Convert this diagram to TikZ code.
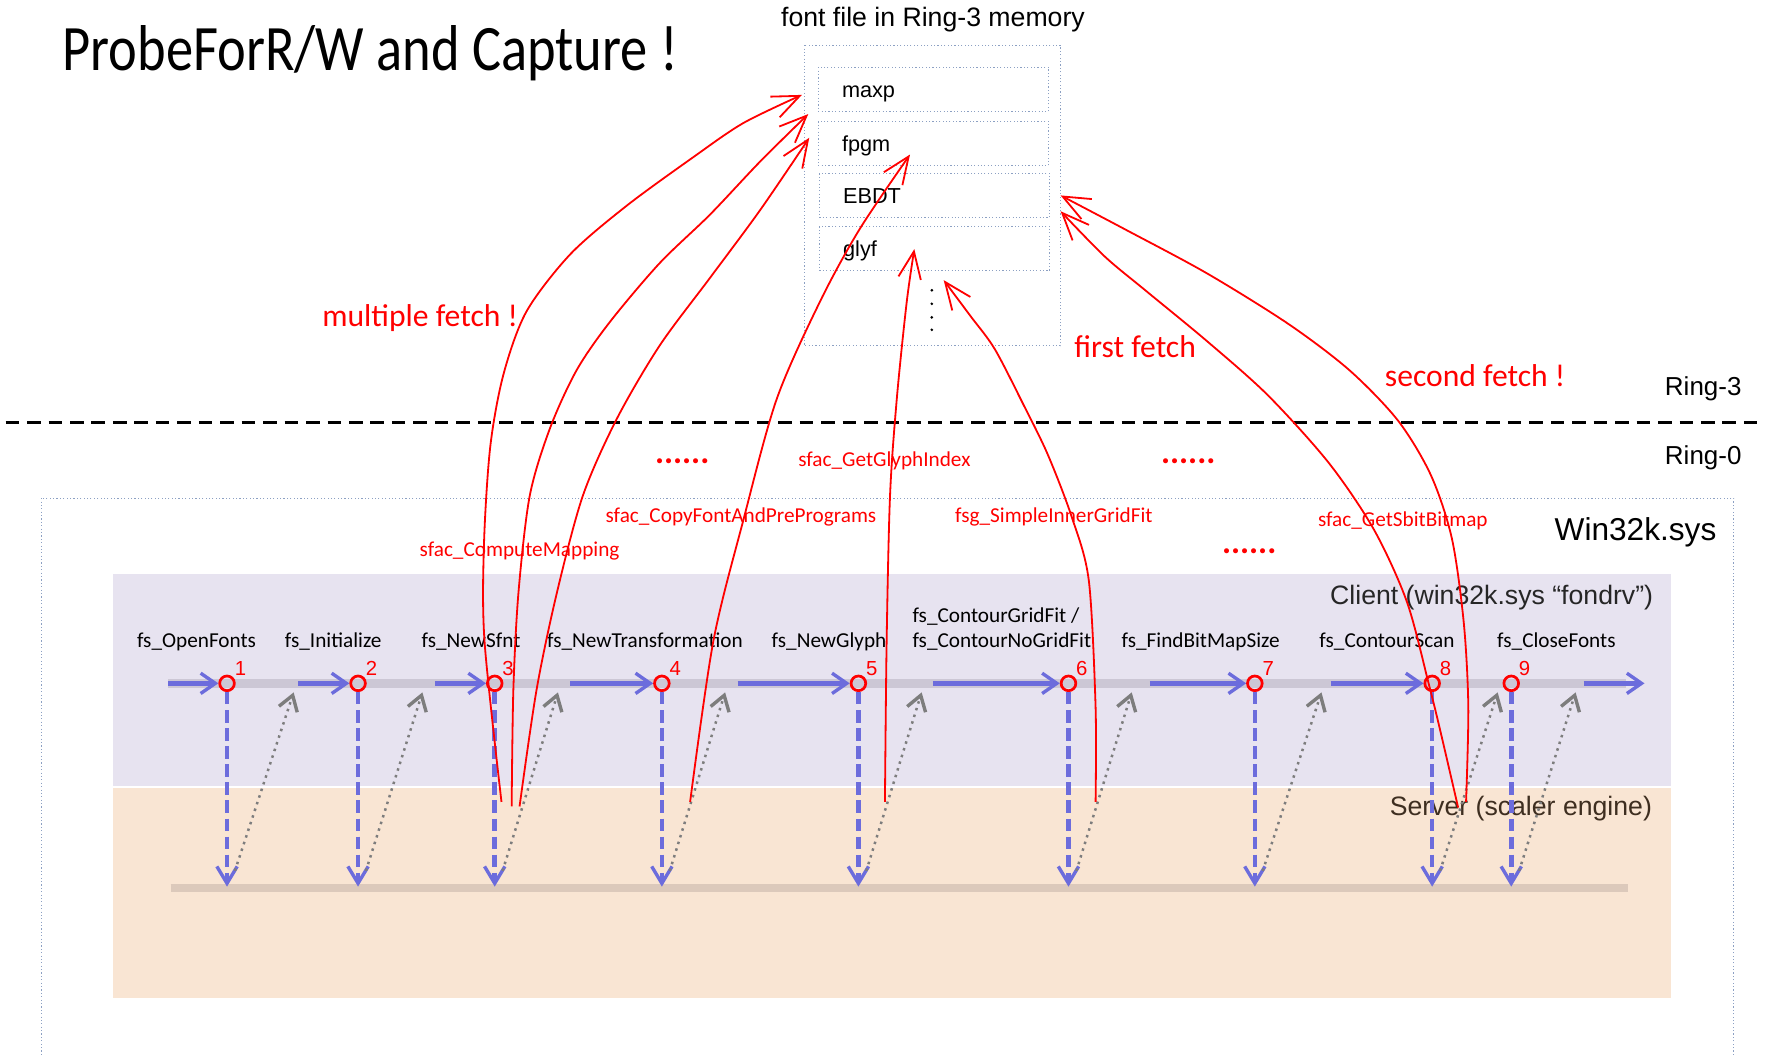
\documentclass[tikz,border=0pt]{standalone}
\usepackage{graphicx}
\usepackage{fontspec}
\setmainfont{Liberation Sans}
\newfontfamily\calfont{Carlito}
\usepackage{tikz}
\usetikzlibrary{arrows.meta}
\usepackage{xcolor}
\definecolor{fetchred}{RGB}{255,0,0}
\definecolor{callblue}{RGB}{108,108,220}
\definecolor{retgray}{RGB}{125,125,125}
\definecolor{clientbg}{RGB}{231,227,240}
\definecolor{serverbg}{RGB}{249,229,211}
\definecolor{bandgray}{RGB}{204,199,213}
\definecolor{bandbrown}{RGB}{220,201,187}
\definecolor{boxline}{RGB}{140,160,195}
\definecolor{serverink}{RGB}{62,46,32}

\tikzset{
  fsname/.style={font=\calfont\fontsize{9.4}{11}\selectfont},
  sfacname/.style={font=\calfont\fontsize{9.4}{11}\selectfont, text=fetchred},
  fetchnote/.style={font=\calfont\fontsize{14}{16}\selectfont, text=fetchred},
  moredots/.style={font=\calfont\bfseries\fontsize{15}{16}\selectfont, text=fetchred},
  memline/.style={draw=boxline, densely dotted, line width=0.5pt},
  rowbox/.style={memline, anchor=north west, minimum height=19.5pt, text width=81pt,
    text height=7.5pt, text depth=0.5pt,
    inner xsep=10.5pt, align=left, font=\fontsize{9.6}{11}\selectfont},
  callpt/.style={circle, draw=fetchred, line width=1.2pt, minimum size=6.5pt, inner sep=0pt},
  callnum/.style={font=\fontsize{9}{10}\selectfont, text=fetchred, inner sep=0.5pt, label distance=0pt},
  callflow/.style={draw=callblue, line width=2pt,
    -{Straight Barb[length=6.5pt,width=9pt,line width=1.5pt]}},
  calldown/.style={draw=callblue, line width=2pt, dash pattern=on 5.5pt off 2.5pt,
    -{Straight Barb[length=7.5pt,width=9pt,line width=1.5pt]}},
  retline/.style={draw=retgray, line width=1.1pt, dotted,
    -{Straight Barb[length=6.5pt,width=8.5pt,line width=1.5pt]}},
  fetch/.style={draw=fetchred, line width=0.8pt, -{Straight Barb[length=12pt,width=10pt]}}
}

\begin{document}
\begin{tikzpicture}[x=0.5pt, y=-0.5pt]
  \useasboundingbox (0,0) rectangle (1568,934);
  \clip (0,0) rectangle (1568,934);
  % title
  \node[anchor=base west, inner sep=0pt] (title) at (55,62)
    {\scalebox{0.84}[1]{\calfont\fontsize{28.7}{32}\selectfont ProbeForR/W and Capture !}};
  % font file in user memory
  \node (memtitle) at (826,17) {\fontsize{11.8}{14}\selectfont font file in Ring-3 memory};
  \draw[memline] (712,40) rectangle (939,306);
  \node[rowbox] (maxp) at (724,59) {maxp};
  \node[rowbox] (fpgm) at (724,107) {fpgm};
  \node[rowbox] (ebdt) at (725,153) {EBDT};
  \node[rowbox] (glyf) at (725,200) {glyf};
  \foreach \y in {257,269,281,292} \fill (825,\y) circle (0.65pt);
  % ring boundary
  \draw[line width=1.3pt, dash pattern=on 6pt off 3.5pt] (5,374) -- (1562,374);
  \node (ring3) at (1508,344) {\fontsize{11.5}{13}\selectfont Ring-3};
  \node (ring0) at (1508,405) {\fontsize{11.5}{13}\selectfont Ring-0};
  % win32k.sys
  \draw[memline] (37,441) rectangle (1535,960);
  \node (win32k) at (1448,471) {\fontsize{14}{16}\selectfont Win32k.sys};
  \fill[clientbg] (100,508) rectangle (1479,696);
  \fill[serverbg] (100,697.5) rectangle (1479,884);
  \node[anchor=east, inner sep=0pt, text=black!85] (client) at (1464,529)
    {\fontsize{11.8}{14}\selectfont Client (win32k.sys “fondrv”)};
  \node[anchor=east, inner sep=0pt, text=serverink] (server) at (1463,716)
    {\fontsize{11.8}{14}\selectfont Server (scaler engine)};
  \draw[bandgray, line width=4pt] (149,605) -- (1440,605);
  \draw[bandbrown, line width=3.5pt] (151,786) -- (1441,786);
  % call names
  \node[fsname] (n1) at (174,568) {fs\_OpenFonts};
  \node[fsname] (n2) at (295,568) {fs\_Initialize};
  \node[fsname] (n3) at (417,568) {fs\_NewSfnt};
  \node[fsname] (n4) at (571,568) {fs\_NewTransformation};
  \node[fsname] (n5) at (734,568) {fs\_NewGlyph};
  \node[fsname, align=left] (n6) at (887,557) {fs\_ContourGridFit /\\fs\_ContourNoGridFit};
  \node[fsname] (n7) at (1063,568) {fs\_FindBitMapSize};
  \node[fsname] (n8) at (1228,568) {fs\_ContourScan};
  \node[fsname] (n9) at (1378,568) {fs\_CloseFonts};
  % client -> server -> client
  \foreach \n/\x/\g in {1/201/260, 2/317/374, 3/438/494, 4/586/642, 5/760/816,
                        6/946/1002, 7/1111/1170, 8/1268/1326, 9/1338/1395} {
    \node[callpt, label={[callnum]45:\n}] (c\n) at (\x,605) {};
    \coordinate (d\n) at (\x,785);
    \coordinate (r\n) at (\x+7,771);
    \coordinate (g\n) at (\g,613);
    \draw[calldown] (c\n) -- (d\n);
    \draw[retline] (r\n) -- (g\n);
  }
  \foreach \n/\s in {1/149, 2/264, 3/385, 4/505, 5/653, 6/826, 7/1018, 8/1178} {
    \coordinate (s\n) at (\s,605);
    \draw[callflow] (s\n) -- (c\n);
  }
  \coordinate (sEnd) at (1402,605);
  \coordinate (eEnd) at (1456,605);
  \draw[callflow] (sEnd) -- (eEnd);
  % red labels
  \node[sfacname] (cmap) at (460,488) {sfac\_ComputeMapping};
  \node[sfacname] (cpfont) at (656,458) {sfac\_CopyFontAndPrePrograms};
  \node[sfacname] (gidx) at (783,408) {sfac\_GetGlyphIndex};
  \node[sfacname] (gfit) at (933,458) {fsg\_SimpleInnerGridFit};
  \node[sfacname] (sbit) at (1242,461) {sfac\_GetSbitBitmap};
  \node[moredots] (etc1) at (604,408) {......};
  \node[moredots] (etc2) at (1052,408) {......};
  \node[moredots] (etc3) at (1106,488) {......};
  \node[fetchnote] (multi) at (372,282) {multiple fetch !};
  \node[fetchnote] (first) at (1005,307) {first fetch};
  \node[fetchnote] (second) at (1306,333) {second fetch !};
  % fetch ends
  \coordinate (sA) at (444,710);  \coordinate (tA) at (710,84);
  \coordinate (sB) at (453,714);  \coordinate (tB) at (715.6,101);
  \coordinate (sC) at (460,714);  \coordinate (tC) at (716.5,122);
  \coordinate (sD) at (611,710);  \coordinate (tD) at (805.7,136.8);
  \coordinate (sE) at (783.5,710); \coordinate (tE) at (809.5,220.5);
  \coordinate (sF) at (970,710);  \coordinate (tF) at (835.5,248);
  \coordinate (sG) at (1291,715); \coordinate (tG) at (939,187);
  \coordinate (sH) at (1298,710); \coordinate (tH) at (939,173);
  % fetches from the scaler
  \draw[fetch] plot[smooth] coordinates {(sA) (429,568) (428.5,482) (434,396) (445.6,332)
    (466,276) (505,225) (555,182) (614,139) (658,109) (tA)};
  \draw[fetch] plot[smooth] coordinates {(sB) (454.5,611) (459,525) (469,439) (487,379)
    (510.6,327.6) (540,285) (584,233) (628.6,190) (673,143) (tB)};
  \draw[fetch] plot[smooth] coordinates {(sC) (475,611) (493,525) (516,439) (546,371)
    (584,306) (628.6,246) (673,186) (tC)};
  \draw[fetch] plot[smooth] coordinates {(sD) (631.5,568) (658,461) (687.6,353.5) (726,267)
    (761,203) (tD)};
  \draw[fetch] plot[smooth] coordinates {(sE) (785,568) (788,439) (794,353) (802.7,268) (tE)};
  \draw[fetch] plot[smooth] coordinates {(sF) (970,626) (964,514) (949,458) (927.7,402.5)
    (906,358) (880.7,309) (859,279.5) (tF)};
  \draw[fetch] plot[smooth] coordinates {(sG) (1274.6,644.5) (1265,605.6) (1245.7,533)
    (1216.5,469) (1176.6,410) (1122.6,350) (1068.6,302) (1014,257) (978,227) (tG)};
  \draw[fetch] plot[smooth] coordinates {(sH) (1300,626) (1296,551.6) (1285.5,477) (1267,421)
    (1238,372.7) (1195,328) (1141,287) (1068.6,242) (996,203) (tH)};
\end{tikzpicture}
\end{document}
